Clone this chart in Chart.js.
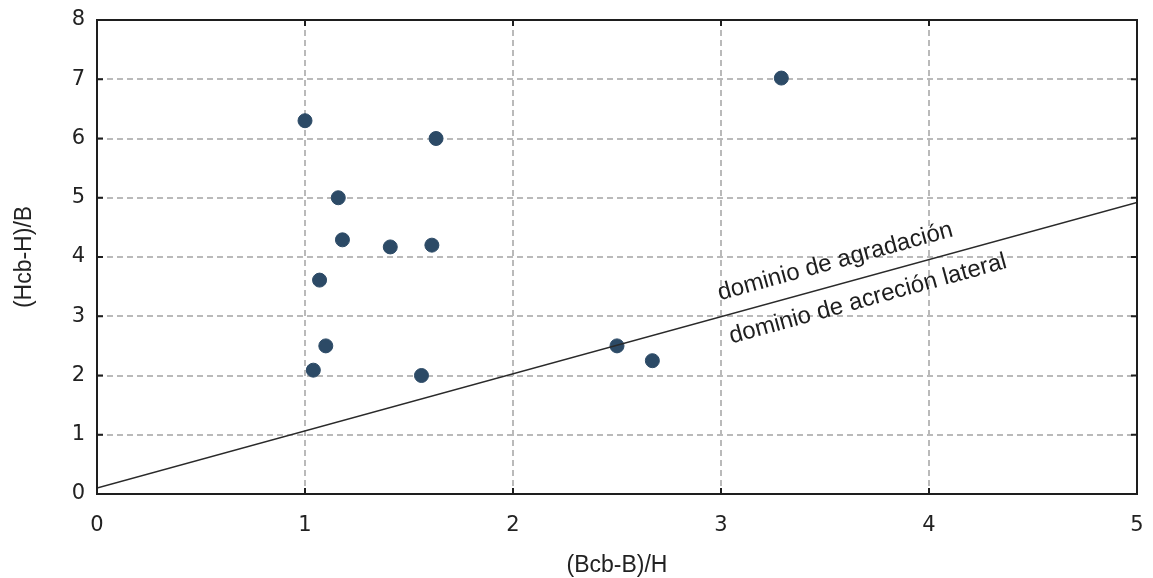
<!DOCTYPE html>
<html>
<head>
<meta charset="utf-8">
<script src="https://cdn.jsdelivr.net/npm/chart.js@4/dist/chart.umd.min.js"></script>
<style>
  html, body { margin: 0; padding: 0; background: #ffffff; }
  #wrap { width: 1153px; height: 578px; }
</style>
</head>
<body>
<div id="wrap"><canvas id="c" width="1153" height="578"></canvas></div>
<script>
// Measured channels: (Bcb-B)/H against (Hcb-H)/B
const ratioBH = [1.00, 3.29, 1.63, 1.16, 1.18, 1.41, 1.61, 1.07, 1.10, 1.04, 1.56, 2.50, 2.67];
const ratioHB = [6.30, 7.02, 6.00, 5.00, 4.29, 4.17, 4.20, 3.61, 2.50, 2.09, 2.00, 2.50, 2.25];

// Boundary between the two domains
const boundaryX = [0, 5];
const boundaryY = [0.10, 4.92];

const xTicks = [0, 1, 2, 3, 4, 5];
const yTicks = [0, 1, 2, 3, 4, 5, 6, 7, 8];

const labelAbove = 'dominio de agradación';
const labelBelow = 'dominio de acreción lateral';

const points = ratioBH.map((x, i) => ({ x: x, y: ratioHB[i] }));
const boundary = boundaryX.map((x, i) => ({ x: x, y: boundaryY[i] }));

const gridStyle = {
  color: '#bababa',
  lineWidth: 2,
  drawTicks: false
};

// Frame, inward tick marks and the domain labels along the boundary
const framePlugin = {
  id: 'frame',
  afterDatasetsDraw(chart) {
    const { ctx, chartArea: a, scales } = chart;
    const xs = scales.x, ys = scales.y;
    ctx.save();
    ctx.strokeStyle = '#1e1e1e';
    ctx.lineWidth = 2;
    ctx.strokeRect(a.left, a.top, a.right - a.left, a.bottom - a.top);
    const t = 6;
    ctx.beginPath();
    xTicks.forEach(v => {
      const px = xs.getPixelForValue(v);
      ctx.moveTo(px, a.bottom); ctx.lineTo(px, a.bottom - t);
      ctx.moveTo(px, a.top); ctx.lineTo(px, a.top + t);
    });
    yTicks.forEach(v => {
      const py = ys.getPixelForValue(v);
      ctx.moveTo(a.left, py); ctx.lineTo(a.left + t, py);
      ctx.moveTo(a.right, py); ctx.lineTo(a.right - t, py);
    });
    ctx.stroke();

    // labels follow the slope of the boundary line
    const x0 = xs.getPixelForValue(boundaryX[0]), y0 = ys.getPixelForValue(boundaryY[0]);
    const x1 = xs.getPixelForValue(boundaryX[1]), y1 = ys.getPixelForValue(boundaryY[1]);
    const ang = Math.atan2(y1 - y0, x1 - x0);
    ctx.fillStyle = '#1e1e1e';
    ctx.font = "24px 'Liberation Sans', Arial, sans-serif";
    ctx.textAlign = 'left';
    ctx.textBaseline = 'alphabetic';
    const put = (txt, dx, dy) => {
      ctx.save();
      ctx.translate(xs.getPixelForValue(dx), ys.getPixelForValue(dy));
      ctx.rotate(ang);
      ctx.fillText(txt, 0, 0);
      ctx.restore();
    };
    put(labelAbove, 2.995, 3.27);
    put(labelBelow, 3.05, 2.54);
    ctx.restore();
  }
};

new Chart(document.getElementById('c'), {
  type: 'scatter',
  data: {
    datasets: [
      {
        data: boundary,
        showLine: true,
        borderColor: '#2a2a2a',
        borderWidth: 1.5,
        pointRadius: 0,
        pointHoverRadius: 0,
        order: 0
      },
      {
        data: points,
        backgroundColor: '#2c4a66',
        borderColor: '#2c4a66',
        pointRadius: 7,
        pointHoverRadius: 7,
        order: 1
      }
    ]
  },
  options: {
    responsive: false,
    animation: false,
    layout: { padding: { top: 20, right: 16, left: 0, bottom: 0 } },
    plugins: {
      legend: { display: false },
      tooltip: { enabled: false }
    },
    scales: {
      x: {
        type: 'linear',
        min: 0, max: 5,
        afterFit(s) {
          s.height = 84;
          s.paddingLeft = 0; s.paddingRight = 0;
        },
        afterBuildTicks(s) { s.ticks = xTicks.map(v => ({ value: v })); },
        border: { display: false, dash: [6, 4] },
        grid: gridStyle,
        ticks: {
          padding: 19,
          color: '#222',
          font: { family: "'DejaVu Sans', Verdana, sans-serif", size: 21 }
        },
        title: {
          display: true,
          text: '(Bcb-B)/H',
          color: '#222',
          padding: 0,
          font: { family: "'Liberation Sans', Arial, sans-serif", size: 23, lineHeight: 1.05 }
        }
      },
      y: {
        type: 'linear',
        min: 0, max: 8,
        afterFit(s) {
          s.width = 97;
          s.paddingTop = 0; s.paddingBottom = 0;
        },
        afterBuildTicks(s) { s.ticks = yTicks.map(v => ({ value: v })); },
        border: { display: false, dash: [6, 4] },
        grid: gridStyle,
        ticks: {
          padding: 12,
          color: '#222',
          font: { family: "'DejaVu Sans', Verdana, sans-serif", size: 21 }
        },
        title: {
          display: true,
          text: '(Hcb-H)/B',
          color: '#222',
          padding: { top: 13, bottom: 0 },
          font: { family: "'Liberation Sans', Arial, sans-serif", size: 23, lineHeight: 1.05 }
        }
      }
    }
  },
  plugins: [framePlugin]
});
</script>
</body>
</html>
